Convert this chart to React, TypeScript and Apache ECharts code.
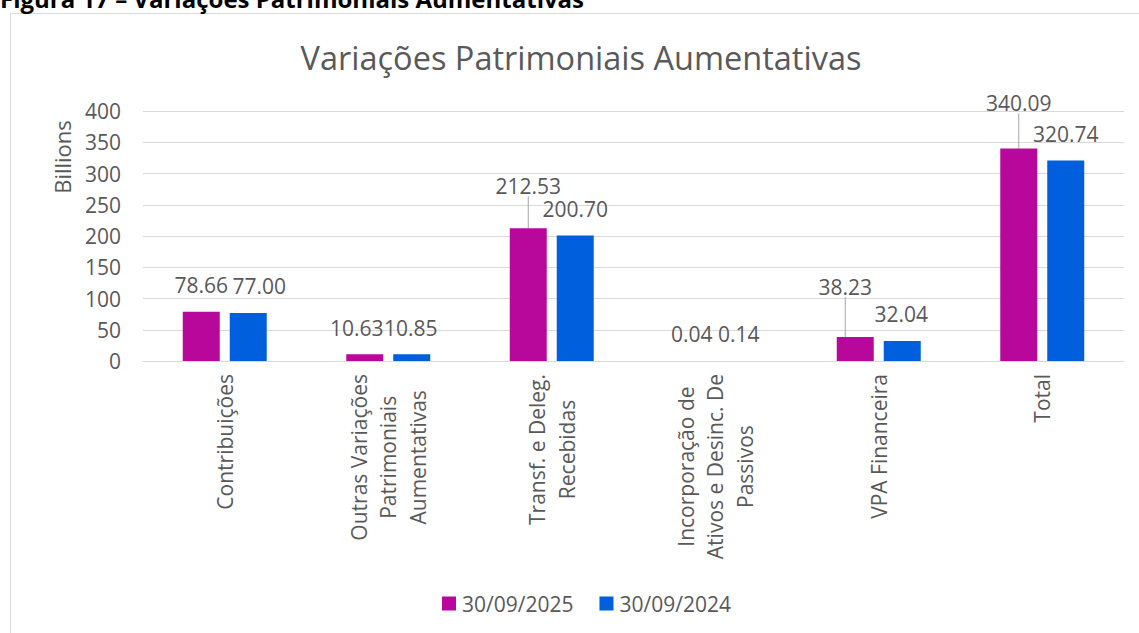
import React, { useEffect, useRef } from "react";
import * as echarts from "echarts";

const categories = [
  "Contribuições",
  "Outras Variações\nPatrimoniais\nAumentativas",
  "Transf. e Deleg.\nRecebidas",
  "Incorporação de\nAtivos e Desinc. De\nPassivos",
  "VPA Financeira",
  "Total",
];
const seriesNames = ["30/09/2025", "30/09/2024"];
const values2025 = [78.66, 10.63, 212.53, 0.04, 38.23, 340.09];
const values2024 = [77.0, 10.85, 200.7, 0.14, 32.04, 320.74];
const yMin = 0;
const yMax = 400;
const yStep = 50;
const chartTitle = "Variações Patrimoniais Aumentativas";
const figureCaption = "Figura 17 – Variações Patrimoniais Aumentativas";
const yAxisTitle = "Billions";

// label nudges [dx, dy] in px, and which labels get a leader line
const shift2025 = [[0, 0], [-8, 0], [0, -16], [0, 0], [-10, -24], [0, -19]];
const shift2024 = [[11, 0], [-1, 0], [0, 0], [0, 0], [-1, 0], [0, 0]];
const leader2025 = [false, false, true, false, true, true];

const FONT = "'Open Sans', 'Noto Sans', sans-serif";
const TEXT = "#595959";
const GRID = "#d9d9d9";
const COLORS = ["#b7089b", "#005fdc"];
const FS = 21;
const LEADER_GAP = 7;

export default function App() {
  const ref = useRef<HTMLDivElement>(null);
  useEffect(() => {
    if (!ref.current) return;
    const chart = echarts.init(ref.current, null, { renderer: "svg" });
    const mkData = (vals: number[], leaders?: boolean[]) =>
      vals.map((v, i) => {
        const lead = !!(leaders && leaders[i]);
        return {
          value: v,
          label: lead ? { padding: [0, 0, LEADER_GAP, 0] } : {},
          labelLine: { show: lead },
        };
      });
    const mkSeries = (
      name: string,
      vals: number[],
      shifts: number[][],
      color: string,
      leaders?: boolean[]
    ) => ({
      type: "bar",
      name,
      data: mkData(vals, leaders),
      barWidth: 37,
      barGap: "27%",
      itemStyle: { color },
      label: {
        show: true,
        position: "top",
        distance: 16,
        fontSize: FS,
        fontFamily: FONT,
        color: TEXT,
        formatter: (p: any) => Number(p.value).toFixed(2),
      },
      labelLine: { show: false, lineStyle: { color: "#a6a6a6", width: 1 } },
      labelLayout: (p: any) => {
        const s = shifts[p.dataIndex] || [0, 0];
        const lead = !!(leaders && leaders[p.dataIndex]);
        return { dx: s[0], dy: s[1] + (lead ? LEADER_GAP : 0) };
      },
    });
    chart.setOption({
      animation: false,
      backgroundColor: "#ffffff",
      textStyle: { fontFamily: FONT },
      grid: {
        left: 143,
        right: 15,
        top: 111,
        bottom: 272,
        containLabel: false,
        outerBoundsMode: "none",
      },
      legend: {
        data: seriesNames,
        left: 437,
        top: 588,
        icon: "rect",
        itemWidth: 14,
        itemHeight: 14,
        itemGap: 26,
        textStyle: { fontSize: FS, color: TEXT, fontFamily: FONT, padding: [0, 0, 0, 1] },
      },
      xAxis: {
        type: "category",
        data: categories,
        axisTick: { show: false },
        axisLine: { lineStyle: { color: GRID, width: 1 } },
        axisLabel: {
          interval: 0,
          rotate: 90,
          margin: 13,
          color: TEXT,
          fontSize: FS,
          fontFamily: FONT,
          formatter: (v: string) =>
            v
              .split("\n")
              .map((l) => `{c|${l}}`)
              .join("\n"),
          rich: {
            c: { align: "center", fontSize: FS, color: TEXT, fontFamily: FONT, lineHeight: 29.5 },
          },
        },
      },
      yAxis: {
        type: "value",
        min: yMin,
        max: yMax,
        interval: yStep,
        axisLine: { show: false },
        axisTick: { show: false },
        axisLabel: { fontSize: FS, color: TEXT, fontFamily: FONT, margin: 22 },
        splitLine: { lineStyle: { color: GRID, width: 1 } },
      },
      graphic: [
        {
          type: "rect",
          shape: { x: 10.5, y: 13.5, width: 1143, height: 660 },
          style: { fill: "none", stroke: GRID, lineWidth: 1 },
          silent: true,
          z: -10,
        },
        {
          type: "text",
          x: 0,
          y: -2,
          style: {
            text: figureCaption,
            fontSize: 24,
            fontWeight: "bold",
            fontFamily: FONT,
            fill: "#000000",
            align: "left",
            verticalAlign: "middle",
          },
        },
        {
          type: "text",
          x: 581,
          y: 57,
          style: {
            text: chartTitle,
            fontSize: 32.5,
            fontFamily: FONT,
            fill: TEXT,
            align: "center",
            verticalAlign: "middle",
          },
        },
        {
          type: "text",
          x: 61.5,
          y: 157,
          rotation: Math.PI / 2,
          style: {
            text: yAxisTitle,
            fontSize: 22,
            fontFamily: FONT,
            fill: TEXT,
            align: "center",
            verticalAlign: "middle",
          },
        },
      ],
      series: [
        mkSeries(seriesNames[0], values2025, shift2025, COLORS[0], leader2025),
        mkSeries(seriesNames[1], values2024, shift2024, COLORS[1]),
      ],
    });
    return () => chart.dispose();
  }, []);
  return (
    <div
      ref={ref}
      style={{ position: "absolute", left: 0, top: 0, width: 1139, height: 633 }}
    />
  );
}
